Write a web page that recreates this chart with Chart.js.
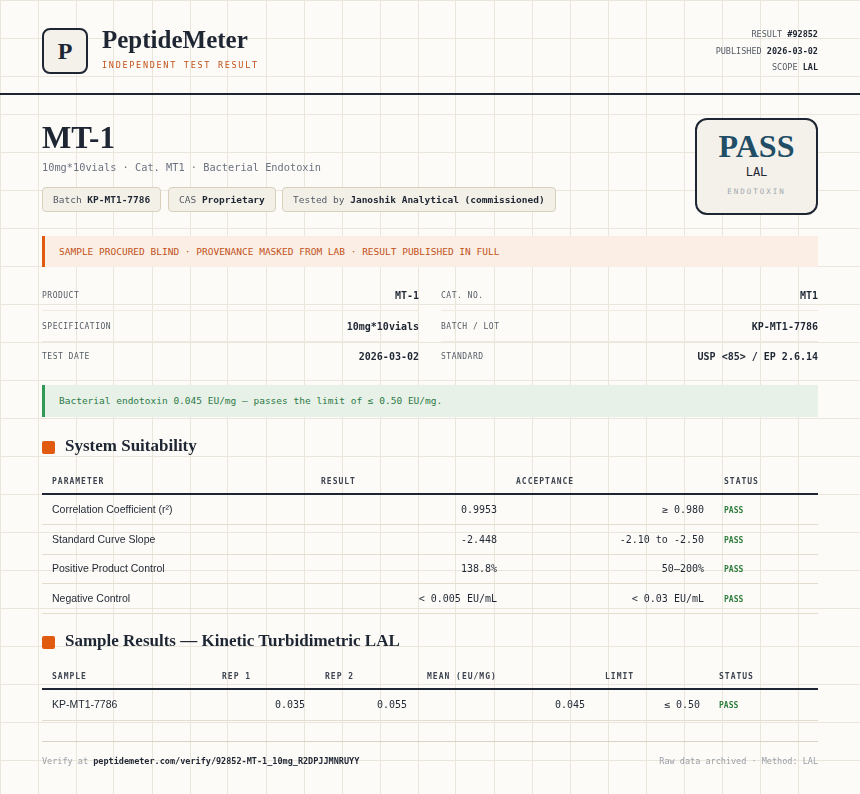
<!DOCTYPE html>
<html>
<head>
<meta charset="utf-8">
<script src="https://cdn.jsdelivr.net/npm/chart.js@4"></script>
<style>
  body { margin: 0; width: 860px; height: 794px; background: #fcfbf7; position: relative; overflow: hidden; font-family: "Liberation Sans", Arial, sans-serif; color: #1e2633; }
  #bg { position: absolute; left: 0; top: 0; }
  .a { position: absolute; white-space: nowrap; }
  .mono { font-family: "DejaVu Sans Mono", "Liberation Mono", monospace; }
  .serif { font-family: "Liberation Serif", "DejaVu Serif", serif; font-weight: bold; }
  .line { position: absolute; height: 1px; background: #e4ddcf; }
  .chip { position: absolute; top: 187px; height: 23px; border: 1px solid #d8cfbc; border-radius: 4px; background: #f3f0e8; font-size: 9.5px; line-height: 23px; padding: 0 10px; color: #555c66; }
  .chip b { color: #1e2633; }
  .lbl { font-size: 8px; color: #555c66; letter-spacing: 0.5px; }
  .val { font-size: 10px; font-weight: bold; }
  .th { font-size: 8px; font-weight: bold; color: #3d4450; letter-spacing: 1px; }
  .ok { font-size: 8px; font-weight: bold; color: #2f7d3e; }
</style>
</head>
<body>
<canvas id="bg" width="860" height="794"></canvas>
<div id="page"></div>
<script>
// background grid
const gridStep = 38;

// meta + info
const metaLabels = ["RESULT", "PUBLISHED", "SCOPE"];
const metaValues = ["#92852", "2026-03-02", "LAL"];
const infoLabels = ["PRODUCT", "CAT. NO.", "SPECIFICATION", "BATCH / LOT", "TEST DATE", "STANDARD"];
const infoValues = ["MT-1", "MT1", "10mg*10vials", "KP-MT1-7786", "2026-03-02", "USP <85> / EP 2.6.14"];

// system suitability
const suitParams = ["Correlation Coefficient (r\u00b2)", "Standard Curve Slope", "Positive Product Control", "Negative Control"];
const suitResults = ["0.9953", "-2.448", "138.8%", "< 0.005 EU/mL"];
const suitAccept = ["\u2265 0.980", "-2.10 to -2.50", "50\u2013200%", "< 0.03 EU/mL"];
const suitStatus = ["PASS", "PASS", "PASS", "PASS"];

// sample results
const sampleIds = ["KP-MT1-7786"];
const rep1 = ["0.035"];
const rep2 = ["0.055"];
const means = ["0.045"];
const limits = ["\u2264 0.50"];
const sampleStatus = ["PASS"];

new Chart(document.getElementById("bg"), {
  type: "scatter",
  data: { datasets: [{ data: [] }] },
  options: {
    responsive: false, animation: false, events: [],
    layout: { padding: 0 },
    plugins: { legend: { display: false }, tooltip: { enabled: false } },
    scales: {
      x: { type: "linear", min: 0, max: 860, display: true, border: { display: false },
           ticks: { display: false, stepSize: gridStep }, grid: { color: "#ebe6dc", lineWidth: 1, drawTicks: false } },
      y: { type: "linear", min: 0, max: 794, reverse: true, display: true, border: { display: false },
           ticks: { display: false, stepSize: gridStep }, grid: { color: "#ebe6dc", lineWidth: 1, drawTicks: false } }
    }
  }
});

const page = document.getElementById("page");
let html = "";
function put(x, y, text, cls, style) {
  html += `<div class="a ${cls || ""}" style="left:${x}px;top:${y}px;${style || ""}">${text}</div>`;
}
function putR(r, y, text, cls, style) {
  html += `<div class="a ${cls || ""}" style="right:${860 - r}px;top:${y}px;${style || ""}">${text}</div>`;
}
function hline(x, y, w, style) {
  html += `<div class="line" style="left:${x}px;top:${y}px;width:${w}px;${style || ""}"></div>`;
}
const esc = s => s.replace(/</g, "&lt;").replace(/>/g, "&gt;");

// header
html += `<div class="a serif" style="left:42px;top:28px;width:42px;height:42px;border:2px solid #1e2633;border-radius:8px;background:#f3f1ea;text-align:center;line-height:42px;font-size:24px;">P</div>`;
put(102, 26, "PeptideMeter", "serif", "font-size:25px;");
put(102, 60, "INDEPENDENT TEST RESULT", "mono", "font-size:8.5px;letter-spacing:1.7px;color:#c2511a;");
metaLabels.forEach((l, i) => {
  putR(818, 29 + i * 16.5, `<span style="color:#555c66">${l}</span> <b>${metaValues[i]}</b>`, "mono", "font-size:8.5px;");
});
hline(0, 93, 860, "height:2px;background:#1e2633;");

// title
put(42, 120, "MT-1", "serif", "font-size:31px;");
put(42, 161, "10mg*10vials \u00b7 Cat. MT1 \u00b7 Bacterial Endotoxin", "mono", "font-size:10.3px;color:#6b7280;");
html += `<div class="chip mono" style="left:42px">Batch <b>KP-MT1-7786</b></div>`;
html += `<div class="chip mono" style="left:168px">CAS <b>Proprietary</b></div>`;
html += `<div class="chip mono" style="left:282px">Tested by <b>Janoshik Analytical (commissioned)</b></div>`;

// pass box
html += `<div class="a" style="left:695px;top:118px;width:119px;height:93px;border:2px solid #1e2633;border-radius:12px;background:#f4f1ea;text-align:center;">
  <div class="serif" style="font-size:32px;color:#1f4e66;margin-top:10px;line-height:32px;">PASS</div>
  <div class="mono" style="font-size:12px;margin-top:3px;">LAL</div>
  <div class="mono" style="font-size:7.5px;color:#a3a8b0;letter-spacing:2px;margin-top:8px;">ENDOTOXIN</div></div>`;

// banner
html += `<div class="a mono" style="left:42px;top:236px;height:31px;border-left:3px solid #e05a10;background:#fbefe5;font-size:9.5px;line-height:31px;color:#c2511a;padding-left:14px;box-sizing:border-box;width:776px;">SAMPLE PROCURED BLIND \u00b7 PROVENANCE MASKED FROM LAB \u00b7 RESULT PUBLISHED IN FULL</div>`;

// info grid
infoLabels.forEach((l, i) => {
  const col = i % 2, row = Math.floor(i / 2);
  const x0 = col ? 441 : 42, x1 = col ? 818 : 419, y = 290 + row * 30.5;
  put(x0, y + 1, l, "mono lbl");
  putR(x1, y, esc(infoValues[i]), "mono val");
  if (row < 2) hline(x0, y + 20, x1 - x0, "background:#efeae0;");
});

// green note
html += `<div class="a mono" style="left:42px;top:385px;width:776px;height:32px;border-left:3px solid #2f9a55;background:#e8f1e8;font-size:9.5px;line-height:32px;color:#2c7a45;padding-left:14px;box-sizing:border-box;">Bacterial endotoxin 0.045 EU/mg \u2014 passes the limit of \u2264 0.50 EU/mg.</div>`;

// section 1
html += `<div class="a" style="left:42px;top:441px;width:13px;height:13px;border-radius:2px;background:#e05a10;"></div>`;
put(65, 436, "System Suitability", "serif", "font-size:17px;");
put(52, 477, "PARAMETER", "mono th");
put(321, 477, "RESULT", "mono th");
put(516, 477, "ACCEPTANCE", "mono th");
put(724, 477, "STATUS", "mono th");
hline(42, 493, 776, "height:2px;background:#1e2633;");
suitParams.forEach((p, i) => {
  const y = 503 + i * 29.5;
  put(52, y, p, "", "font-size:10.5px;");
  putR(497, y + 1, esc(suitResults[i]), "mono", "font-size:10px;");
  putR(704, y + 1, esc(suitAccept[i]), "mono", "font-size:10px;");
  put(724, y + 3, suitStatus[i], "mono ok");
  hline(42, y + 21, 776);
});

// section 2
html += `<div class="a" style="left:42px;top:636px;width:13px;height:13px;border-radius:2px;background:#e05a10;"></div>`;
put(65, 631, "Sample Results \u2014 Kinetic Turbidimetric LAL", "serif", "font-size:17px;");
put(52, 672, "SAMPLE", "mono th");
put(222, 672, "REP 1", "mono th");
put(325, 672, "REP 2", "mono th");
put(427, 672, "MEAN (EU/MG)", "mono th");
put(605, 672, "LIMIT", "mono th");
put(719, 672, "STATUS", "mono th");
hline(42, 688, 776, "height:2px;background:#1e2633;");
sampleIds.forEach((s, i) => {
  const y = 698 + i * 30;
  put(52, y, s, "", "font-size:10.5px;");
  putR(305, y + 1, rep1[i], "mono", "font-size:10px;");
  putR(407, y + 1, rep2[i], "mono", "font-size:10px;");
  putR(585, y + 1, means[i], "mono", "font-size:10px;");
  putR(700, y + 1, limits[i], "mono", "font-size:10px;");
  put(719, y + 3, sampleStatus[i], "mono ok");
  hline(42, y + 22, 776);
});

// footer
hline(42, 741, 776, "background:#d9d2c3;");
put(42, 756, `<span style="color:#9aa0a8">Verify at</span> <b>peptidemeter.com/verify/92852-MT-1_10mg_R2DPJJMNRUYY</b>`, "mono", "font-size:8.5px;");
putR(818, 756, "Raw data archived \u00b7 Method: LAL", "mono", "font-size:8.5px;color:#9aa0a8;");

page.innerHTML = html;
</script>
</body>
</html>
